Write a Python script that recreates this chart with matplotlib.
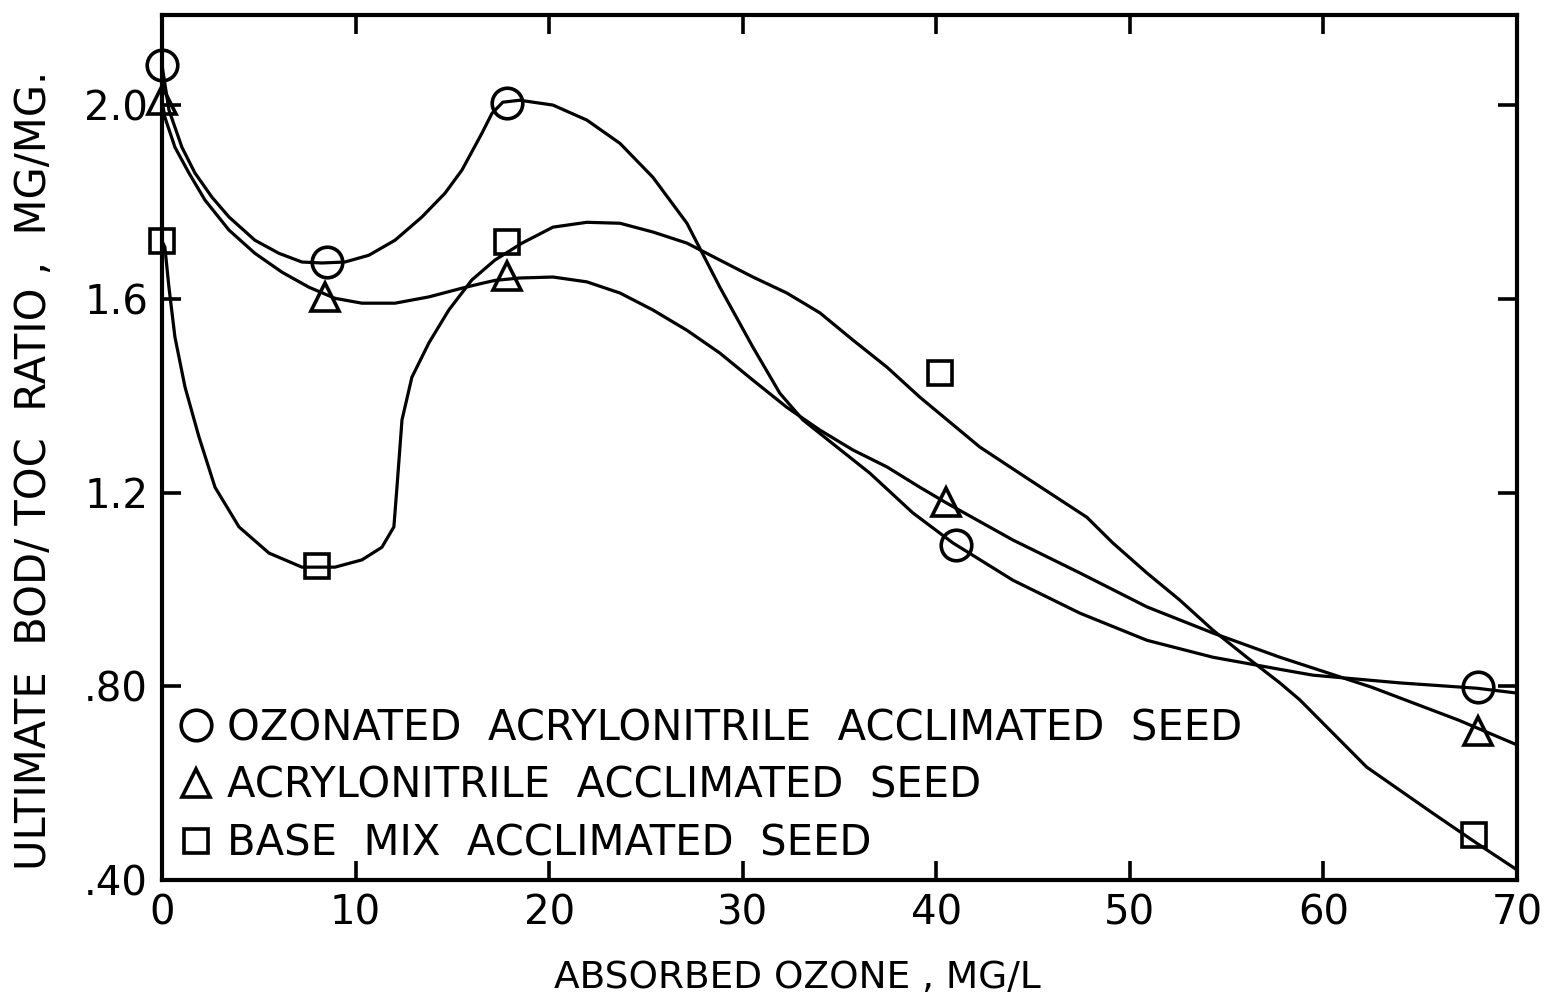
import numpy as np
import matplotlib
matplotlib.use("Agg")
import matplotlib.pyplot as plt
from matplotlib.lines import Line2D

# measured points (absorbed ozone mg/l, BOD/TOC ratio)
oz_x = [0, 8.5, 17.8, 41.0, 68.0]
oz_y = [2.083, 1.676, 2.005, 1.092, 0.798]
acr_x = [0, 8.4, 17.8, 40.5, 68.0]
acr_y = [2.01, 1.603, 1.647, 1.18, 0.708]
base_x = [0, 8.0, 17.8, 40.2, 67.8]
base_y = [1.719, 1.048, 1.717, 1.447, 0.493]

# hand drawn curves
oz_cx = [0, 0.36, 1.03, 1.70, 2.58, 3.46, 4.80, 6.04, 7.23, 8.26, 9.45, 10.69, 12.04,
         13.43, 14.62, 15.50, 16.53, 17.05, 17.61, 18.49, 20.20, 21.95, 23.66, 25.36,
         27.12, 28.82, 30.53, 31.92, 33.11, 34.87, 36.57, 38.79, 40.86, 43.96, 47.42,
         50.88, 54.29, 57.75, 59.45, 63.95, 67.92, 70.0]
oz_cy = [2.083, 1.990, 1.913, 1.860, 1.810, 1.769, 1.721, 1.694, 1.676, 1.674, 1.676, 1.690, 1.721,
         1.769, 1.818, 1.866, 1.942, 1.983, 2.006, 2.010, 2.000, 1.969, 1.921, 1.851,
         1.756, 1.624, 1.500, 1.405, 1.350, 1.294, 1.240, 1.158, 1.096, 1.019, 0.951,
         0.895, 0.860, 0.835, 0.823, 0.807, 0.796, 0.786]

acr_cx = [0, 0.15, 0.67, 1.39, 2.22, 3.46, 4.80, 6.20, 7.59, 8.94, 10.33, 12.04, 13.79,
          15.50, 16.53, 17.20, 18.49, 20.20, 21.95, 23.66, 25.36, 27.12, 28.82, 30.53,
          32.28, 33.99, 35.69, 37.45, 39.15, 40.55, 43.96, 47.42, 50.88, 54.29, 57.75,
          62.50, 66.99, 70.0]
acr_cy = [2.010, 1.975, 1.913, 1.860, 1.804, 1.742, 1.694, 1.655, 1.624, 1.601, 1.591, 1.591, 1.604,
          1.622, 1.632, 1.638, 1.643, 1.645, 1.635, 1.612, 1.577, 1.535, 1.488, 1.432,
          1.376, 1.329, 1.288, 1.253, 1.211, 1.178, 1.102, 1.034, 0.964, 0.910, 0.860,
          0.798, 0.730, 0.679]

base_cx = [0, 0.15, 0.36, 0.67, 1.19, 1.91, 2.74, 3.98, 5.53, 7.23, 8.94, 10.33, 11.36,
           11.98, 12.14, 12.40, 12.91, 13.79, 14.82, 16.01, 17.20, 18.60, 20.20, 21.95,
           23.66, 25.36, 27.12, 28.82, 30.53, 32.28, 33.99, 35.69, 37.45, 39.15, 42.25,
           44.83, 47.78, 49.12, 50.88, 52.58, 54.29, 56.04, 57.75, 58.78, 62.24, 65.65,
           67.92, 70.0]
base_cy = [1.719, 1.707, 1.624, 1.521, 1.418, 1.315, 1.211, 1.129, 1.075, 1.046, 1.046, 1.061, 1.087,
           1.129, 1.211, 1.350, 1.438, 1.509, 1.577, 1.639, 1.680, 1.715, 1.748, 1.758,
           1.756, 1.738, 1.715, 1.680, 1.645, 1.612, 1.571, 1.515, 1.459, 1.397, 1.294,
           1.226, 1.149, 1.096, 1.034, 0.978, 0.916, 0.860, 0.807, 0.772, 0.633, 0.538,
           0.476, 0.421]

labels = ["OZONATED  ACRYLONITRILE  ACCLIMATED  SEED",
          "ACRYLONITRILE  ACCLIMATED  SEED",
          "BASE  MIX  ACCLIMATED  SEED"]
xticks = [0, 10, 20, 30, 40, 50, 60, 70]
yticks = [0.4, 0.8, 1.2, 1.6, 2.0]
ytick_labels = [".40", ".80", "1.2", "1.6", "2.0"]

plt.rcParams['font.family'] = ['DejaVu Sans']
fig = plt.figure(figsize=(15.44, 10.07), dpi=100)
ax = fig.add_axes([0.1049, 0.1261, 0.8776, 0.859])

LW = 2.3
for cx, cy in [(oz_cx, oz_cy), (acr_cx, acr_cy), (base_cx, base_cy)]:
    ax.plot(cx, cy, color="black", lw=LW, solid_capstyle="round", solid_joinstyle="round")

mk = dict(color="black", markerfacecolor="none", markeredgewidth=2.6, linestyle="none")
ax.plot(oz_x, oz_y, marker="o", markersize=22, clip_on=False, zorder=5, **mk)
ax.plot(acr_x, acr_y, marker="^", markersize=20, clip_on=False, zorder=5, **mk)
ax.plot(base_x, base_y, marker="s", markersize=17, clip_on=False, zorder=5, **mk)

ax.set_xlim(0, 70)
ax.set_ylim(0.4, 2.186)
ax.set_xticks(xticks)
ax.set_xticklabels([str(v) for v in xticks])
ax.set_yticks(yticks)
ax.set_yticklabels(ytick_labels)
ax.tick_params(direction="in", length=14, width=2.6, labelsize=29, top=True, right=True, pad=10)
for s in ax.spines.values():
    s.set_linewidth(3)

ax.set_xlabel("ABSORBED OZONE , MG/L", fontsize=27)
ax.xaxis.set_label_coords(0.469, -0.092)
ax.set_ylabel("ULTIMATE  BOD/ TOC  RATIO ,  MG/MG.", fontsize=30)
ax.yaxis.set_label_coords(-0.079, 0.474)

handles = [Line2D([], [], marker="o", markersize=22, **mk),
           Line2D([], [], marker="^", markersize=20, **mk),
           Line2D([], [], marker="s", markersize=17, **mk)]
ax.legend(handles, labels, loc="lower left", bbox_to_anchor=(-0.009, -0.016), frameon=False,
          fontsize=30, handlelength=0.8, handletextpad=0.35, labelspacing=0.38, borderpad=0.2)

fig.savefig("out.png", dpi=100)
